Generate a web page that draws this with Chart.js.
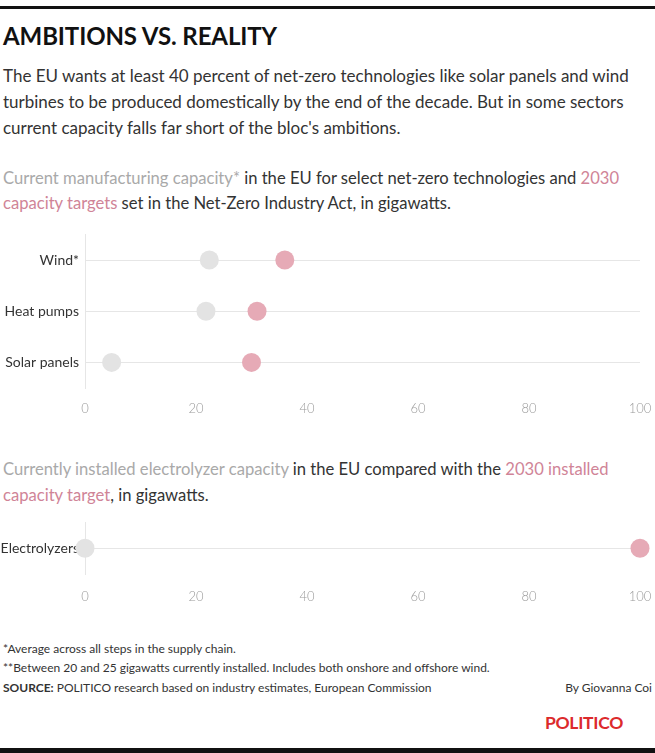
<!DOCTYPE html>
<html>
<head>
<meta charset="utf-8">
<script src="https://cdn.jsdelivr.net/npm/chart.js@4.4.1/dist/chart.umd.min.js"></script>
<style>
  html, body { margin: 0; padding: 0; background: #fff; }
  body { width: 655px; height: 753px; position: relative; overflow: hidden; font-family: Lato, "Open Sans", sans-serif; color: #333; }
  .rule { position: absolute; left: 0; width: 655px; background: #111; }
  .t { position: absolute; white-space: nowrap; }
  .title { left: 3px; top: 21px; font-size: 24px; font-weight: 700; color: #111; letter-spacing: -0.1px; }
  .body { left: 3px; font-size: 17px; color: #333; line-height: 26px; }
  .sub { font-size: 16.6px; }
  .grey { color: #a9a9a9; }
  .pink { color: #d08497; }
  .foot { left: 3px; font-size: 12px; color: #333; }
  .logo { left: 545px; top: 712px; font-size: 17.5px; font-weight: 700; color: #dc2a2c; letter-spacing: -0.3px; }
  canvas { position: absolute; }
</style>
</head>
<body>
<div class="rule" style="top:6px;height:3px"></div>
<div class="t title">AMBITIONS VS. REALITY</div>
<div class="t body" style="top:63px">The EU wants at least 40 percent of net-zero technologies like solar panels and wind</div>
<div class="t body" style="top:89px">turbines to be produced domestically by the end of the decade. But in some sectors</div>
<div class="t body" style="top:115px">current capacity falls far short of the bloc's ambitions.</div>

<div class="t body sub" style="top:165px"><span class="grey">Current manufacturing capacity*</span> in the EU for select net-zero technologies and <span class="pink">2030</span></div>
<div class="t body sub" style="top:190px"><span class="pink">capacity targets</span> set in the Net-Zero Industry Act, in gigawatts.</div>

<div style="position:absolute;left:0;top:220px;width:655px;height:205px"><canvas id="c1"></canvas></div>

<div class="t body sub" style="top:456px"><span class="grey">Currently installed electrolyzer capacity</span> in the EU compared with the <span class="pink">2030 installed</span></div>
<div class="t body sub" style="top:482px"><span class="pink">capacity target</span>, in gigawatts.</div>

<div style="position:absolute;left:0;top:508px;width:655px;height:106px"><canvas id="c2"></canvas></div>

<div class="t foot" style="top:641px">*Average across all steps in the supply chain.</div>
<div class="t foot" style="top:660px">**Between 20 and 25 gigawatts currently installed. Includes both onshore and offshore wind.</div>
<div class="t foot" style="top:680px"><b>SOURCE:</b> POLITICO research based on industry estimates, European Commission</div>
<div class="t foot" style="top:680px;left:auto;right:3px">By Giovanna Coi</div>
<div class="t logo">POLITICO</div>
<div class="rule" style="top:748px;height:5px"></div>

<script>
// ---- data ----
const techCategories = ["Wind*", "Heat pumps", "Solar panels"];
const techCurrent = [22.4, 21.8, 4.8];
const techTarget2030 = [36, 31, 30];

const elecCategories = ["Electrolyzers"];
const elecCurrent = [0];
const elecTarget2030 = [100];

const xTickValues = [0, 20, 40, 60, 80, 100];

// ---- styles ----
const GREY_DOT = "#e3e3e3";
const PINK_DOT = "#e6aab6";
const GRID = "#e6e6e6";

function makeChart(id, cats, cur, tgt, xAxisHeight, tickPad) {
  return new Chart(document.getElementById(id), {
    type: "line",
    data: {
      labels: cats,
      datasets: [
        { label: "Current", data: cur, showLine: false, clip: false, pointRadius: 9.5, pointHoverRadius: 9.5,
          pointBackgroundColor: GREY_DOT, pointBorderWidth: 0, borderColor: GREY_DOT },
        { label: "2030 target", data: tgt, showLine: false, clip: false, pointRadius: 9.5, pointHoverRadius: 9.5,
          pointBackgroundColor: PINK_DOT, pointBorderWidth: 0, borderColor: PINK_DOT }
      ]
    },
    options: {
      indexAxis: "y",
      responsive: true,
      maintainAspectRatio: false,
      animation: false,
      layout: { padding: { top: 0, right: 15, left: 0, bottom: 0 } },
      plugins: { legend: { display: false }, tooltip: { enabled: false } },
      scales: {
        x: {
          type: "linear", min: 0, max: 100,
          afterBuildTicks: s => { s.ticks = xTickValues.map(v => ({ value: v })); },
          afterFit: s => { s.height = xAxisHeight; s.paddingLeft = 0; s.paddingRight = 0; },
          grid: { display: false, drawTicks: false },
          border: { display: false },
          ticks: { color: "#9a9a9a", padding: tickPad, font: { family: "Lato", size: 13, weight: 300 } }
        },
        y: {
          type: "category", offset: true,
          afterFit: s => { s.width = 85; },
          grid: { color: GRID, lineWidth: 1, drawTicks: false },
          border: { display: true, color: GRID, width: 1 },
          ticks: { color: "#333", padding: 6, font: { family: "Lato", size: 14 } }
        }
      }
    }
  });
}

makeChart("c1", techCategories, techCurrent, techTarget2030, 37, 13);
makeChart("c2", elecCategories, elecCurrent, elecTarget2030, 40, 15);
</script>
</body>
</html>
